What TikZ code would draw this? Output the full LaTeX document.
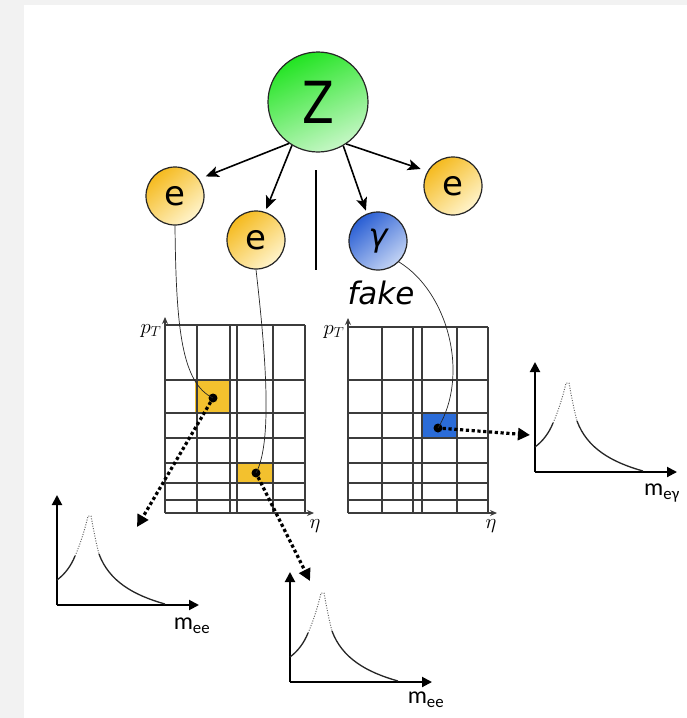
\documentclass[tikz,border=0pt]{standalone}
\usepackage{fontspec}
\setmainfont{DejaVu Sans}
\newfontfamily\carl{Carlito}
\usetikzlibrary{arrows.meta}
\definecolor{zgreen}{HTML}{22E422}
\definecolor{zlight}{HTML}{C6F7C6}
\definecolor{eor}{HTML}{F5BA1E}
\definecolor{elight}{HTML}{FFF4CC}
\definecolor{gblue}{HTML}{2A5FD4}
\definecolor{glight}{HTML}{C4D4F4}
\definecolor{cellY}{HTML}{F3C12E}
\definecolor{cellB}{HTML}{2B6CD8}
\definecolor{gridc}{HTML}{3C3C3C}
\tikzset{
  ball/.style={circle, draw=black!85, line width=1.2pt, inner sep=0pt},
  zball/.style={ball, minimum size=100pt, top color=zgreen, bottom color=zlight, shading angle=25,
    font=\fontsize{58}{58}\selectfont},
  eball/.style={ball, minimum size=58pt, top color=eor, bottom color=elight, shading angle=40,
    font=\fontsize{34}{34}\selectfont},
  gball/.style={ball, minimum size=58pt, top color=gblue, bottom color=glight, shading angle=40,
    font=\fontsize{32}{32}\selectfont\itshape},
  zarrow/.style={line width=1.6pt, -{Stealth[length=13pt,width=11pt,inset=3pt]}},
  thinc/.style={line width=0.7pt, black!85},
  dotc/.style={circle, fill=black, inner sep=0pt, minimum size=9pt},
  dotarrow/.style={line width=3.2pt, dash pattern=on 3.2pt off 2.6pt, -{Triangle[length=12pt,width=12pt]}},
  gridline/.style={line width=1.3pt, gridc},
  gaxis/.style={line width=1.1pt, gridc, -{Stealth[length=7pt,width=6pt]}},
  paxis/.style={line width=2pt, -{Triangle[length=10pt,width=10pt]}},
  pcurve/.style={line width=1.3pt, black!85},
  pdots/.style={line width=1pt, black!60, dash pattern=on 1pt off 1.5pt},
  mlabel/.style={font=\carl\fontsize{24}{24}\selectfont},
  axlabel/.style={font=\fontsize{20}{20}\selectfont},
  massplot/.pic={
    \draw[paxis] (0,0) -- (0,-110);
    \draw[paxis] (0,0) -- (142,0);
    \draw[pcurve] (0,-25) .. controls (8,-31) and (14,-39) .. (18,-49);
    \draw[pdots] (18,-49) .. controls (24,-62) and (29,-80) .. (31,-89) -- (34,-89)
       .. controls (36,-78) and (39,-62) .. (42,-51);
    \draw[pcurve] (42,-51) .. controls (52,-24) and (76,-10) .. (108,-1);
  }
}
\begin{document}
\begin{tikzpicture}[x=1pt,y=-1pt]
\useasboundingbox (0,0) rectangle (687,718);
\fill[gray!10] (0,0) rectangle (687,718);
\fill[white] (24,5) rectangle (687,718);

% particles
\node[zball] (Z) at (318,102) {\scalebox{0.8}[1]{Z}};
\node[eball] (e1) at (175,196) {e};
\node[eball] (e2) at (256,240) {e};
\node[gball] (g) at (378,241) {γ};
\node[eball] (e3) at (453,186) {e};
\draw[line width=1.6pt] (316,170) -- (316,270);
\node[font=\fontsize{31}{31}\selectfont\itshape] (fake) at (381,293) {fake};

\draw[zarrow, shorten >=7pt] (Z.235) -- (e1.35);
\draw[zarrow, shorten >=3pt] (Z.239) -- (e2.72);
\draw[zarrow, shorten >=3pt] (Z.300) -- (g.112);
\draw[zarrow, shorten >=7pt] (Z.304) -- (e3.150);

% left grid
\fill[cellY] (195,380) rectangle (230,413);
\fill[cellY] (237,462) rectangle (273,483);
\foreach \x in {165,197,230,237,273,305} \draw[gridline] (\x,325) -- (\x,513);
\foreach \y in {325,380,413,438,463,483,500,513} \draw[gridline] (165,\y) -- (305,\y);
\draw[gaxis] (165,513) -- (165,317);
\draw[gaxis] (165,513) -- (314,513);
\node[axlabel] (pt1) at (151,331) {$p_T$};
\node[axlabel] (eta1) at (315,526) {$\eta$};

% right grid
\fill[cellB] (422,413) rectangle (457,438);
\foreach \x in {348,382,413,422,457,488} \draw[gridline] (\x,327) -- (\x,513);
\foreach \y in {327,380,413,438,463,483,500,513} \draw[gridline] (348,\y) -- (488,\y);
\draw[gaxis] (348,513) -- (348,318);
\draw[gaxis] (348,513) -- (497,513);
\node[axlabel] (pt2) at (334,332) {$p_T$};
\node[axlabel] (eta2) at (491,526) {$\eta$};

% dots
\node[dotc] (d1) at (213,398) {};
\node[dotc] (d2) at (256,473) {};
\node[dotc] (d3) at (438,428) {};

% tracks
\draw[thinc] (e1.south) .. controls (176,330) and (182,383) .. (d1.center);
\draw[thinc] (e2.south) .. controls (264,340) and (274,440) .. (d2.center);
\draw[thinc] (g.-45) .. controls (448,292) and (470,375) .. (d3.center);

% plots
\pic at (57,605) {massplot};
\pic at (290,682) {massplot};
\pic at (535,472) {massplot};
\node[mlabel] (m1) at (192,626) {m\textsubscript{ee}};
\node[mlabel] (m2) at (426,700) {m\textsubscript{ee}};
\node[mlabel] (m3) at (662,493) {m\textsubscript{eγ}};

% dotted arrows
\coordinate (t1) at (137,527);
\coordinate (t2) at (310,581);
\coordinate (t3) at (530,435);
\draw[dotarrow] (d1) -- (t1);
\draw[dotarrow] (d2) -- (t2);
\draw[dotarrow] (d3) -- (t3);
\end{tikzpicture}
\end{document}
